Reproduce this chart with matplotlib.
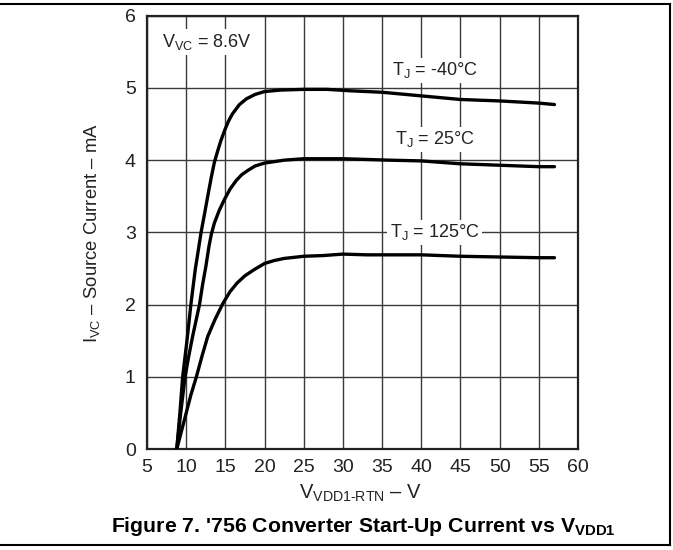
import matplotlib
matplotlib.use("Agg")
import matplotlib.pyplot as plt
from matplotlib.lines import Line2D

plt.rcParams['font.family'] = ['Liberation Sans', 'DejaVu Sans']
plt.rcParams['mathtext.fontset'] = 'custom'
plt.rcParams['mathtext.rm'] = 'Liberation Sans'
plt.rcParams['mathtext.it'] = 'Liberation Sans:italic'
plt.rcParams['mathtext.bf'] = 'Liberation Sans:bold'

# ---- data ----
x_m40 = [8.8, 9.2, 9.55, 10.1, 10.6, 11.15, 11.5, 11.9, 12.35, 12.75, 13.2, 13.6, 14.0,
         14.4, 14.9, 15.4, 15.9, 16.8, 17.7, 18.8, 20, 22, 25, 28, 31, 35, 40, 45, 50, 55, 57]
y_m40 = [0, 0.5, 1.0, 1.5, 2.0, 2.48, 2.72, 3.0, 3.26, 3.5, 3.76, 3.97, 4.12,
         4.26, 4.41, 4.54, 4.64, 4.77, 4.85, 4.91, 4.95, 4.97, 4.98, 4.98, 4.96, 4.94, 4.89, 4.84, 4.82, 4.79, 4.77]

x_25 = [8.8, 9.3, 9.86, 10.3, 10.8, 11.7, 12.1, 12.5, 12.9, 13.2, 13.6, 14.2, 14.9, 15.6, 16.4,
        17.1, 17.9, 18.8, 20, 22.5, 25, 30, 33, 36, 40, 45, 50, 55, 57]
y_25 = [0, 0.5, 1.0, 1.27, 1.55, 2.0, 2.28, 2.52, 2.8, 2.97, 3.13, 3.3, 3.46, 3.6, 3.72,
        3.8, 3.86, 3.92, 3.96, 4.0, 4.02, 4.02, 4.01, 4.0, 3.99, 3.95, 3.93, 3.91, 3.91]

x_125 = [8.8, 9.4, 10.0, 10.6, 11.3, 12.0, 12.75, 13.7, 14.7, 15.6, 16.5, 17.5, 18.6,
         20, 21.2, 22.5, 25, 27.5, 30, 33, 36, 40, 45, 50, 55, 57]
y_125 = [0, 0.25, 0.5, 0.75, 1.0, 1.28, 1.56, 1.8, 2.02, 2.18, 2.3, 2.4, 2.48,
         2.57, 2.61, 2.64, 2.67, 2.68, 2.70, 2.69, 2.69, 2.69, 2.67, 2.66, 2.65, 2.65]

x_ticks = [5, 10, 15, 20, 25, 30, 35, 40, 45, 50, 55, 60]
y_ticks = [0, 1, 2, 3, 4, 5, 6]

curve_labels = ['T$_\\mathregular{J}$ = -40°C', 'T$_\\mathregular{J}$ = 25°C', 'T$_\\mathregular{J}$ = 125°C']
label_pos = [(41.7, 5.175), (41.7, 4.217), (41.7, 2.93)]

# ---- figure ----
fig = plt.figure(figsize=(6.73, 5.5), dpi=100)
ax = fig.add_axes([0.2184, 0.1833, 0.6404, 0.7882])

ax.set_xlim(5, 60)
ax.set_ylim(0, 6)
ax.set_xticks(x_ticks)
ax.set_yticks(y_ticks)
ax.tick_params(length=0, labelsize=14, colors='#222222')
ax.tick_params(axis='x', pad=7)
ax.tick_params(axis='y', pad=8)
ax.grid(True, color='#3a3a3a', linewidth=1.0)
ax.set_axisbelow(True)
for s in ax.spines.values():
    s.set_linewidth(1.6)
    s.set_color('#222222')

for xs, ys in [(x_m40, y_m40), (x_25, y_25), (x_125, y_125)]:
    ax.plot(xs, ys, color='black', linewidth=2.4, solid_capstyle='round', solid_joinstyle='round', zorder=3)

for lab, (lx, ly) in zip(curve_labels, label_pos):
    ax.text(lx, ly, lab, ha='center', va='baseline', fontsize=13, color='#222222', zorder=4,
            bbox=dict(facecolor='white', edgecolor='none', pad=2))

ax.text(6.92, 5.567, 'V$_\\mathregular{VC}$ = 8.6V', ha='left', va='baseline', fontsize=13,
        color='#222222', zorder=4, bbox=dict(facecolor='white', edgecolor='none', pad=2))

fig.text(92 / 673, 1 - 233 / 550, 'I$_\\mathregular{VC}$ – Source Current – mA', rotation=90,
         ha='center', va='center', fontsize=13.3, color='#222222')
fig.text(361 / 673, 1 - 493 / 550, 'V$_\\mathregular{VDD1\\text{-}RTN}$ – V', ha='center', va='center',
         fontsize=14.5, color='#222222')
fig.text(363 / 673, 1 - 527 / 550, "Figure 7. '756 Converter Start-Up Current vs V$_\\mathbf{VDD1}$",
         ha='center', va='center', fontsize=15.3, fontweight='bold', color='black')

# outer frame
fig.add_artist(Line2D([0, 670 / 673], [1 - 4 / 550, 1 - 4 / 550], transform=fig.transFigure, color='black', linewidth=1.5))
fig.add_artist(Line2D([0, 670 / 673], [1 - 545 / 550, 1 - 545 / 550], transform=fig.transFigure, color='black', linewidth=1.5))
fig.add_artist(Line2D([670 / 673, 670 / 673], [1 - 4 / 550, 1 - 545 / 550], transform=fig.transFigure, color='black', linewidth=1.5))

fig.savefig('out.png', dpi=100)
